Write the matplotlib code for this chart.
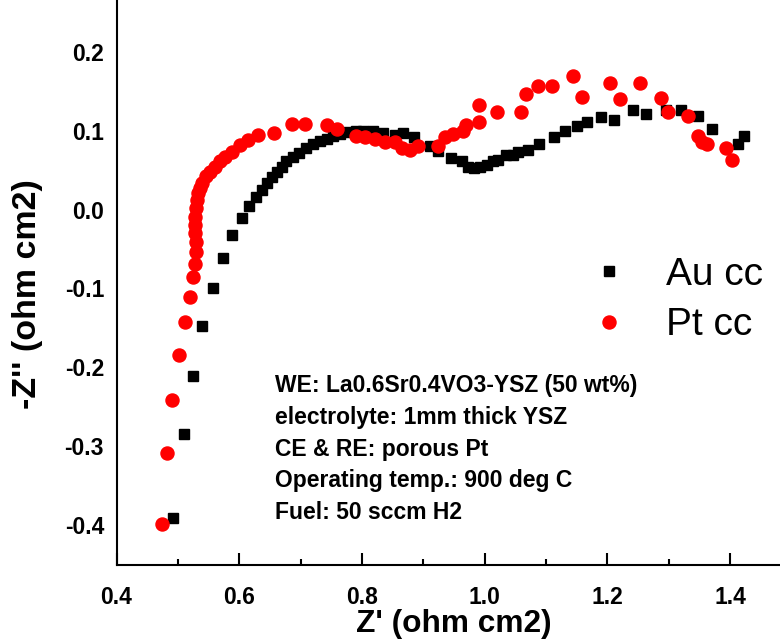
import matplotlib
matplotlib.use("Agg")
import matplotlib.pyplot as plt
from matplotlib.ticker import FixedLocator, MultipleLocator, FormatStrFormatter

plt.rcParams["font.family"] = ["Liberation Sans", "DejaVu Sans"]
plt.rcParams["axes.unicode_minus"] = False

# Au current collector (black squares)
au_x = [0.492, 0.510, 0.524, 0.540, 0.557, 0.573, 0.589, 0.604, 0.616, 0.627,
        0.637, 0.645, 0.653, 0.661, 0.669, 0.677, 0.687, 0.697, 0.708, 0.721,
        0.732, 0.743, 0.753, 0.764, 0.778, 0.791, 0.802, 0.818, 0.835, 0.854,
        0.867, 0.884, 0.911, 0.924, 0.945, 0.963, 0.973, 0.982, 0.992, 1.003,
        1.014, 1.022, 1.035, 1.046, 1.055, 1.071, 1.089, 1.113, 1.131, 1.150,
        1.166, 1.190, 1.210, 1.241, 1.263, 1.296, 1.320, 1.348, 1.371, 1.413,
        1.423]
au_y = [-0.391, -0.284, -0.211, -0.148, -0.099, -0.061, -0.032, -0.011, 0.004, 0.016,
        0.025, 0.033, 0.041, 0.048, 0.054, 0.061, 0.067, 0.072, 0.078, 0.083,
        0.087, 0.090, 0.093, 0.096, 0.098, 0.100, 0.099, 0.100, 0.097, 0.094,
        0.097, 0.092, 0.080, 0.074, 0.065, 0.061, 0.054, 0.053, 0.054, 0.056,
        0.061, 0.063, 0.069, 0.069, 0.073, 0.075, 0.083, 0.092, 0.099, 0.106,
        0.111, 0.117, 0.113, 0.126, 0.121, 0.126, 0.126, 0.118, 0.102, 0.083,
        0.093]

# Pt current collector (red circles)
pt_x = [0.474, 0.482, 0.490, 0.502, 0.512, 0.519, 0.524, 0.528, 0.529, 0.529,
        0.528, 0.528, 0.528, 0.529, 0.531, 0.533, 0.536, 0.540, 0.546, 0.552,
        0.561, 0.569, 0.577, 0.588, 0.601, 0.615, 0.631, 0.656, 0.686, 0.707,
        0.743, 0.760, 0.791, 0.805, 0.821, 0.838, 0.854, 0.866, 0.878, 0.892,
        0.924, 0.935, 0.949, 0.965, 0.970, 0.990, 0.990, 1.020, 1.060, 1.067,
        1.087, 1.109, 1.144, 1.159, 1.204, 1.221, 1.253, 1.287, 1.298, 1.332,
        1.348, 1.355, 1.363, 1.393, 1.403]
pt_y = [-0.398, -0.309, -0.241, -0.184, -0.142, -0.111, -0.086, -0.069, -0.054, -0.041,
        -0.030, -0.020, -0.009, 0.002, 0.012, 0.021, 0.027, 0.033, 0.042, 0.048,
        0.054, 0.061, 0.067, 0.073, 0.082, 0.088, 0.094, 0.097, 0.108, 0.108,
        0.107, 0.102, 0.093, 0.092, 0.089, 0.086, 0.086, 0.078, 0.076, 0.080,
        0.080, 0.092, 0.096, 0.099, 0.107, 0.111, 0.132, 0.123, 0.124, 0.146,
        0.157, 0.157, 0.169, 0.143, 0.160, 0.140, 0.160, 0.142, 0.123, 0.118,
        0.093, 0.085, 0.083, 0.078, 0.063]

y_ticks = [-0.4, -0.3, -0.2, -0.1, 0.0, 0.1, 0.2]
notes = ["WE: La0.6Sr0.4VO3-YSZ (50 wt%)",
         "electrolyte: 1mm thick YSZ",
         "CE & RE: porous Pt",
         "Operating temp.: 900 deg C",
         "Fuel: 50 sccm H2"]

fig = plt.figure(figsize=(7.8, 6.43), dpi=100)
ax = fig.add_axes([0.1494, 0.1213, 0.8653, 0.9209])

ax.plot(au_x, au_y, ls="none", marker="s", ms=7.6, color="black", mec="black",
        label="Au cc")
ax.plot(pt_x, pt_y, ls="none", marker="o", ms=9.4, color="#ff0000", mec="#ff0000",
        label="Pt cc")

ax.set_xlim(0.4, 1.5)
ax.set_ylim(-0.4506, 0.3)

for s in ["top", "right"]:
    ax.spines[s].set_visible(False)
for s in ["left", "bottom"]:
    ax.spines[s].set_linewidth(1.5)

ax.xaxis.set_major_locator(MultipleLocator(0.2))
ax.xaxis.set_minor_locator(MultipleLocator(0.1))
ax.xaxis.set_major_formatter(FormatStrFormatter("%.1f"))
ax.tick_params(axis="x", which="major", direction="in", length=8.5, width=1.5,
               pad=15, labelsize=16.5)
ax.tick_params(axis="x", which="minor", direction="in", length=4.3, width=1.5)

ax.yaxis.set_major_locator(FixedLocator(y_ticks))
ax.yaxis.set_major_formatter(FormatStrFormatter("%.1f"))
ax.tick_params(axis="y", which="both", length=0, pad=9, labelsize=16.5)

for lab in ax.get_xticklabels() + ax.get_yticklabels():
    lab.set_fontweight("bold")

fig.text(454 / 780, 1 - 624 / 643, "Z' (ohm cm2)", fontsize=22.8, fontweight="bold",
         ha="center", va="center")
fig.text(28 / 780, 1 - 294 / 643, "-Z'' (ohm cm2)", fontsize=24.5, fontweight="bold",
         ha="center", va="center", rotation=90)

fig.text(275 / 780, 1 - 374 / 643, "\n".join(notes), fontsize=16.5,
         fontweight="bold", ha="left", va="top", linespacing=1.49)

ax.legend(loc="center left", bbox_to_anchor=(566 / 780, 1 - 300 / 643),
          bbox_transform=fig.transFigure, frameon=False, fontsize=28,
          handletextpad=0.88, labelspacing=0.38, handlelength=1.2,
          borderpad=0)

fig.savefig("out.png", dpi=100)
